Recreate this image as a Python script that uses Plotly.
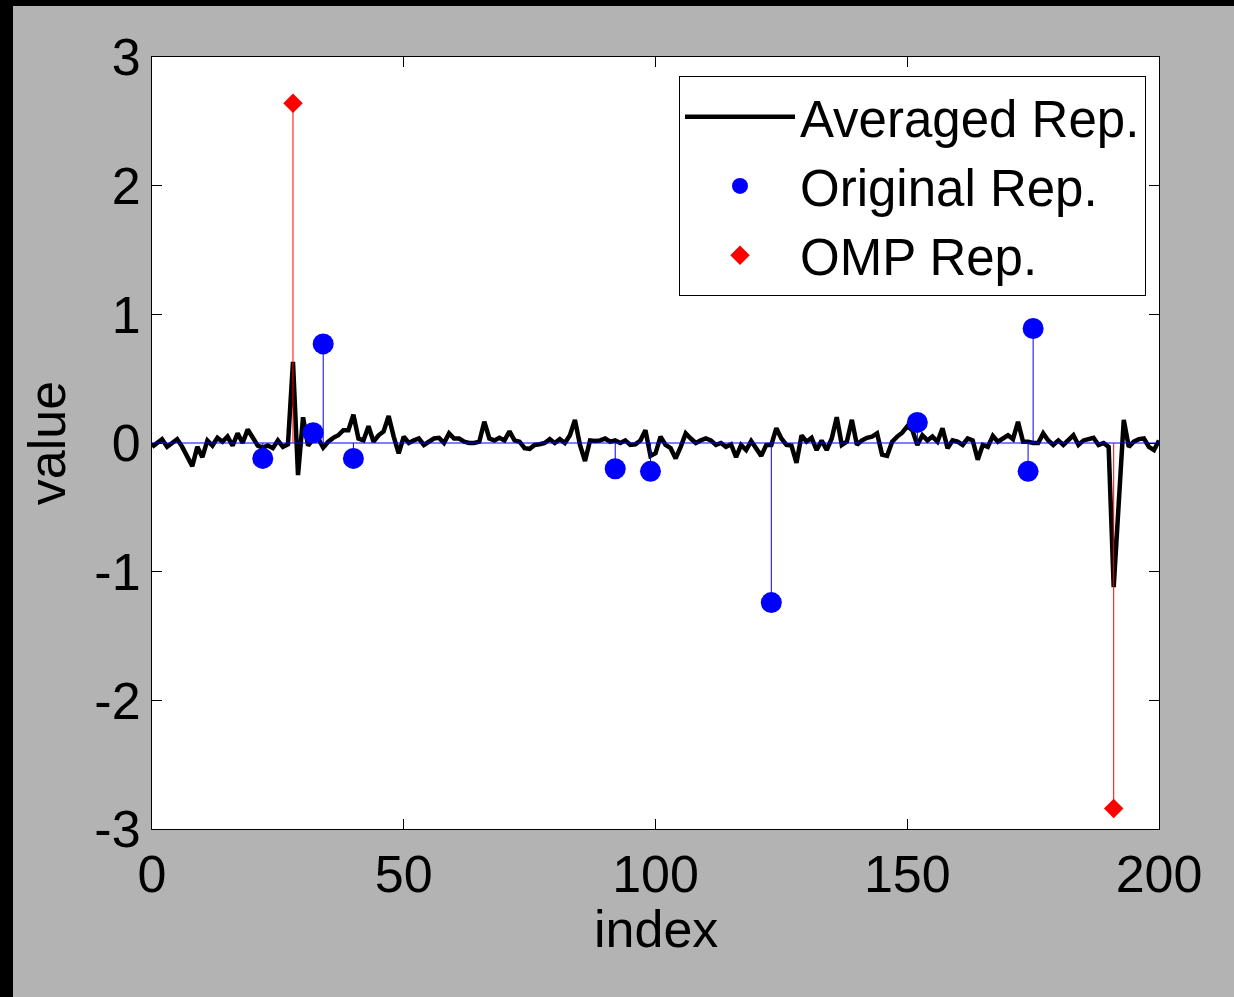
import plotly.graph_objects as go

# ---------------- data ----------------
avg_values = [
    -0.03, 0.00, 0.03, -0.03, 0.00, 0.03, -0.03, -0.10, -0.18, -0.03,   # 0-9
    -0.11, 0.02, -0.02, 0.04, 0.01, 0.05, -0.02, 0.075, 0.00, 0.105,    # 10-19
    0.04, -0.02, -0.035, -0.02, -0.04, 0.02, -0.03, -0.01, 0.63, -0.25, # 20-29
    0.20, -0.02, 0.03, 0.035, -0.035, 0.01, 0.04, 0.06, 0.10, 0.10,     # 30-39
    0.22, 0.035, 0.02, 0.13, 0.01, 0.06, 0.09, 0.21, 0.05, -0.08,       # 40-49
    0.05, 0.00, 0.02, 0.035, -0.015, 0.01, 0.035, 0.04, 0.00, 0.075,   # 50-59
    0.035, 0.035, 0.01, 0.00, 0.00, 0.01, 0.165, 0.035, 0.02, 0.04,    # 60-69
    0.02, 0.09, 0.02, 0.01, -0.04, -0.045, -0.015, -0.01, 0.00, 0.03,  # 70-79
    0.00, 0.03, 0.00, 0.06, 0.18, -0.015, -0.14, 0.02, 0.015, 0.02,    # 80-89
    0.035, 0.01, 0.02, 0.00, 0.02, -0.015, -0.01, 0.02, 0.10, -0.10,   # 90-99
    -0.08, 0.05, -0.015, -0.04, -0.12, -0.03, 0.075, 0.035, 0.00, 0.02, # 100-109
    0.035, 0.02, -0.015, 0.00, -0.03, -0.01, -0.11, -0.015, -0.055, 0.015, # 110-119
    -0.04, -0.10, -0.015, -0.015, 0.115, 0.035, -0.015, -0.02, -0.155, 0.06, # 120-129
    0.01, 0.04, -0.055, 0.02, -0.055, 0.035, 0.20, -0.015, 0.01, 0.18,  # 130-139
    -0.015, 0.02, 0.04, 0.05, 0.075, -0.09, -0.10, 0.01, 0.05, 0.08,   # 140-149
    0.13, 0.10, -0.015, 0.06, 0.02, 0.05, 0.01, 0.115, -0.04, 0.02,    # 150-159
    0.01, -0.015, 0.035, 0.02, -0.13, -0.015, -0.03, 0.055, 0.01, 0.035, # 160-169
    0.06, 0.03, 0.165, 0.01, 0.01, 0.00, 0.00, 0.075, 0.02, -0.015,    # 170-179
    0.02, -0.015, 0.02, 0.06, -0.015, 0.02, 0.03, 0.04, -0.015, 0.00,  # 180-189
    -0.03, -1.12, -0.47, 0.18, -0.03, 0.01, 0.03, 0.035, -0.03, -0.055, # 190-199
    0.02,                                                               # 200
]
avg_index = list(range(len(avg_values)))

orig_index = [22, 32, 34, 40, 92, 99, 123, 152, 174, 175]
orig_values = [-0.12, 0.08, 0.77, -0.12, -0.20, -0.22, -1.24, 0.16, -0.22, 0.89]

omp_index = [28, 191]
omp_values = [2.64, -2.84]

x_limits = [0, 200]
y_limits = [-3, 3]
x_ticks = [0, 50, 100, 150, 200]
y_ticks = [-3, -2, -1, 0, 1, 2, 3]
y_tick_labels = ["-3", "-2", "-1", "0", "1", "2", "3"]

# ---------------- helpers ----------------
def stems(xs, ys):
    sx, sy = [], []
    for xv, yv in zip(xs, ys):
        sx += [xv, xv, None]
        sy += [0, yv, None]
    return sx, sy

FONT = "Liberation Sans, Arial, Helvetica, sans-serif"
FS = 52

fig = go.Figure()

# averaged representation (black line)
fig.add_trace(go.Scatter(
    x=avg_index, y=avg_values, mode="lines", name="Averaged Rep.",
    line=dict(color="black", width=4.5), showlegend=True,
))

# original representation stems + baseline
bx, by = stems(orig_index, orig_values)
fig.add_trace(go.Scatter(x=bx, y=by, mode="lines", line=dict(color="blue", width=1),
                         showlegend=False, hoverinfo="skip"))
fig.add_trace(go.Scatter(x=x_limits, y=[0, 0], mode="lines", line=dict(color="blue", width=1),
                         showlegend=False, hoverinfo="skip"))
fig.add_trace(go.Scatter(
    x=orig_index, y=orig_values, mode="markers", name="Original Rep.",
    marker=dict(color="blue", size=21, symbol="circle", line=dict(width=0)),
))

# OMP representation stems
rx, ry = stems(omp_index, omp_values)
fig.add_trace(go.Scatter(x=rx, y=ry, mode="lines", line=dict(color="red", width=1),
                         showlegend=False, hoverinfo="skip"))
fig.add_trace(go.Scatter(
    x=omp_index, y=omp_values, mode="markers", name="OMP Rep.",
    marker=dict(color="red", size=15, symbol="diamond", line=dict(width=0)),
))

# ---------------- layout ----------------
L, R, T, B = 152, 75, 57, 168
W, H = 1234, 997
pw, ph = W - L - R, H - T - B

axis_common = dict(
    showline=True, linecolor="black", linewidth=1, mirror="ticks",
    ticks="inside", ticklen=10, tickwidth=1, tickcolor="black",
    showgrid=False, zeroline=False,
    tickfont=dict(family=FONT, size=FS, color="black"),
)

fig.update_layout(
    width=W, height=H,
    margin=dict(l=L, r=R, t=T, b=B, pad=0),
    paper_bgcolor="#b3b3b3",
    plot_bgcolor="white",
    font=dict(family=FONT, size=FS, color="black"),
    xaxis=dict(range=x_limits, tickvals=x_ticks, **axis_common),
    yaxis=dict(range=y_limits, tickvals=y_ticks, ticktext=y_tick_labels,
               title=dict(text="value", font=dict(family=FONT, size=FS), standoff=12),
               **axis_common),
    annotations=[
        dict(text="index", xref="paper", yref="paper", x=0.5, y=-(929 - (H - B)) / ph,
             xanchor="center", yanchor="middle", showarrow=False,
             font=dict(family=FONT, size=FS, color="black")),
    ],
    legend=dict(
        x=(1146 - L) / pw, y=(H - B - 76) / ph, xanchor="right", yanchor="top",
        bgcolor="white", bordercolor="black", borderwidth=1,
        font=dict(family=FONT, size=51, color="black"),
        itemwidth=110, tracegroupgap=0,
    ),
    showlegend=True,
    shapes=[
        # black frame strips (left and top edge of the window)
        dict(type="rect", xref="paper", yref="paper",
             x0=-L / pw, x1=(13 - L) / pw, y0=-B / ph, y1=(H - B) / ph,
             fillcolor="black", line=dict(width=0), layer="below"),
        dict(type="rect", xref="paper", yref="paper",
             x0=-L / pw, x1=(W - L) / pw, y0=(H - B - 6) / ph, y1=(H - B) / ph,
             fillcolor="black", line=dict(width=0), layer="below"),
    ],
)

fig.write_html(
    "out.html",
    config={"displayModeBar": False},
    post_script="document.body.style.margin='0';document.body.style.overflow='hidden';",
)
